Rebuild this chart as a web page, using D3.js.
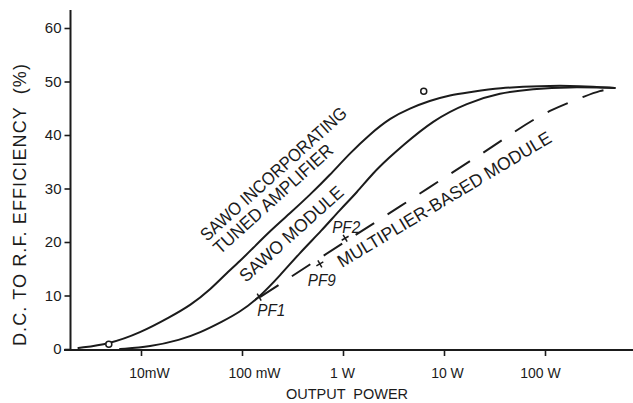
<!DOCTYPE html>
<html>
<head>
<meta charset="utf-8">
<script src="https://cdn.jsdelivr.net/npm/d3@7"></script>
<style>
  html, body { margin: 0; padding: 0; background: #fff; }
  svg { display: block; }
  text { font-family: "Liberation Sans", Arial, sans-serif; fill: #1b1b1b; }
</style>
</head>
<body>
<svg id="chart" width="633" height="403"></svg>
<script>
// Output power in watts, D.C. to R.F. efficiency in percent.
const tunedAmpPower = [0.0024, 0.0048, 0.0098, 0.0195, 0.031, 0.048, 0.076, 0.095, 0.12, 0.19, 0.30, 0.47, 0.74, 1.17, 1.86, 2.95, 4.6, 7.2, 11.5, 18, 35, 89, 224, 490];
const tunedAmpEff   = [0.2, 0.9, 3.0, 6.0, 8.2, 11.0, 14.8, 16.4, 18.3, 22.1, 25.4, 28.8, 32.5, 36.6, 40.2, 43.2, 45.0, 46.4, 47.5, 48.0, 48.8, 49.2, 49.2, 48.8];

const sawoPower = [0.0062, 0.0123, 0.0245, 0.038, 0.065, 0.095, 0.145, 0.24, 0.37, 0.62, 0.93, 1.38, 1.98, 2.92, 3.67, 7.8, 16.9, 35.8, 76, 166, 490];
const sawoEff   = [0.0, 0.4, 1.7, 3.0, 5.2, 6.9, 9.5, 13.8, 17.9, 22.2, 26.0, 29.3, 32.9, 35.9, 37.6, 42.8, 46.0, 47.9, 48.6, 49.0, 48.8];

// Multiplier-based module above PF1 (below PF1 it follows the SAWO module curve)
const multPower = [0.151, 0.59, 3.7, 22.7, 112, 224, 348, 490];
const multEff   = [9.7, 17.0, 26.7, 36.3, 44.5, 46.9, 48.2, 48.8];

const testPointNames = ["PF1", "PF9", "PF2"];
const testPointPower = [0.148, 0.59, 1.05];
const testPointEff   = [9.7, 15.9, 20.7];

const circlePower = [0.0048, 6.3];
const circleEff   = [0.9, 48.2];

const xTickValues = [0.01, 0.1, 1, 10, 100];
const xTickLabels = ["10mW", "100 mW", "1 W", "10 W", "100 W"];
const yTickValues = [0, 10, 20, 30, 40, 50, 60];

const curveLabels = ["SAWO INCORPORATING", "TUNED AMPLIFIER", "SAWO MODULE", "MULTIPLIER-BASED MODULE"];

// ---- layout ----
const ink = "#1b1b1b";
const svg = d3.select("#chart");
const x = d3.scaleLog().domain([0.01, 100]).range([141, 545]);
const y = d3.scaleLinear().domain([0, 60]).range([349, 28]);
const axisX0 = 70.5, axisY0 = 350;

const zip = (ps, es) => ps.map((p, i) => ({ p, e: es[i] }));
const line = d3.line().x(d => x(d.p)).y(d => y(d.e)).curve(d3.curveBasis);

// axes
const gy = svg.append("g").attr("transform", `translate(${axisX0},0)`)
  .call(d3.axisLeft(y).tickValues(yTickValues).tickSize(6).tickPadding(3).tickFormat(d3.format("d")));
gy.select(".domain").remove();
gy.selectAll(".tick line").attr("stroke", ink).attr("stroke-width", 1.6);
gy.selectAll(".tick text").attr("font-size", 15).attr("fill", ink)
  .style("font-family", '"Liberation Sans", Arial, sans-serif');

const labelNudge = [8, 12, -1, 3, -5];
const gx = svg.append("g").attr("transform", `translate(0,${axisY0})`)
  .call(d3.axisBottom(x).tickValues(xTickValues).tickSize(6).tickPadding(12)
    .tickFormat((d, i) => xTickLabels[i]));
gx.select(".domain").remove();
gx.selectAll(".tick line").attr("stroke", ink).attr("stroke-width", 1.6);
gx.selectAll(".tick text").attr("font-size", 14).attr("fill", ink)
  .attr("dx", (d, i) => labelNudge[i])
  .style("font-family", '"Liberation Sans", Arial, sans-serif');

svg.append("line").attr("x1", axisX0).attr("x2", axisX0).attr("y1", 10).attr("y2", axisY0 + 1)
  .attr("stroke", ink).attr("stroke-width", 2);
svg.append("line").attr("x1", 64).attr("x2", 633).attr("y1", axisY0).attr("y2", axisY0)
  .attr("stroke", ink).attr("stroke-width", 2);

// axis titles
svg.append("text").attr("transform", "translate(20,205) rotate(-90)")
  .attr("text-anchor", "middle").attr("dy", "0.36em").attr("font-size", 18)
  .attr("textLength", 282).attr("lengthAdjust", "spacing")
  .style("white-space", "pre")
  .text("D.C. TO R.F. EFFICIENCY  (%)");
svg.append("text").attr("x", 347).attr("y", 399).attr("text-anchor", "middle")
  .attr("font-size", 14.5).style("white-space", "pre").text("OUTPUT  POWER");

// curves
const curveStyle = sel => sel.attr("fill", "none").attr("stroke", ink).attr("stroke-width", 2)
  .attr("stroke-linejoin", "round").attr("stroke-linecap", "round");

svg.append("path").datum(zip(tunedAmpPower, tunedAmpEff)).attr("d", line).call(curveStyle);
svg.append("path").datum(zip(sawoPower, sawoEff)).attr("d", line).call(curveStyle);
svg.append("path").datum(zip(multPower, multEff))
  .attr("d", d3.line().x(d => x(d.p)).y(d => y(d.e)).curve(d3.curveMonotoneX))
  .call(curveStyle)
  .attr("stroke-dasharray", "22,16").attr("stroke-linecap", "butt");

// open circles
svg.selectAll("circle.pt").data(zip(circlePower, circleEff)).join("circle")
  .attr("class", "pt").attr("cx", d => x(d.p)).attr("cy", d => y(d.e)).attr("r", 3)
  .attr("fill", "#fff").attr("stroke", ink).attr("stroke-width", 1.5);

// test points
const tp = testPointNames.map((n, i) => ({ n, p: testPointPower[i], e: testPointEff[i] }));
const tpLabelOffset = [[-2, 19], [-12, 22], [-13, -5]];
const tg = svg.selectAll("g.tp").data(tp).join("g").attr("class", "tp")
  .attr("transform", d => `translate(${x(d.p)},${y(d.e)})`);
tg.append("path").attr("d", "M-4,0H4M0,-4V4").attr("transform", "rotate(-30)")
  .attr("stroke", ink).attr("stroke-width", 1.5);
tg.append("text").attr("x", (d, i) => tpLabelOffset[i][0]).attr("y", (d, i) => tpLabelOffset[i][1])
  .attr("font-size", 16).attr("font-style", "italic")
  .attr("textLength", 28).attr("lengthAdjust", "spacingAndGlyphs").text(d => d.n);

// curve names
const nameLayout = [
  { x: 207, y: 242, a: -42, len: 190 },
  { x: 220, y: 255, a: -42, len: 154 },
  { x: 246, y: 283, a: -42, len: 133 },
  { x: 342, y: 268, a: -31, len: 246 }
];
svg.selectAll("text.cname").data(curveLabels).join("text").attr("class", "cname")
  .attr("transform", (d, i) => `translate(${nameLayout[i].x},${nameLayout[i].y}) rotate(${nameLayout[i].a})`)
  .attr("font-size", 18).attr("textLength", (d, i) => nameLayout[i].len).attr("lengthAdjust", "spacingAndGlyphs")
  .text(d => d);
</script>
</body>
</html>
